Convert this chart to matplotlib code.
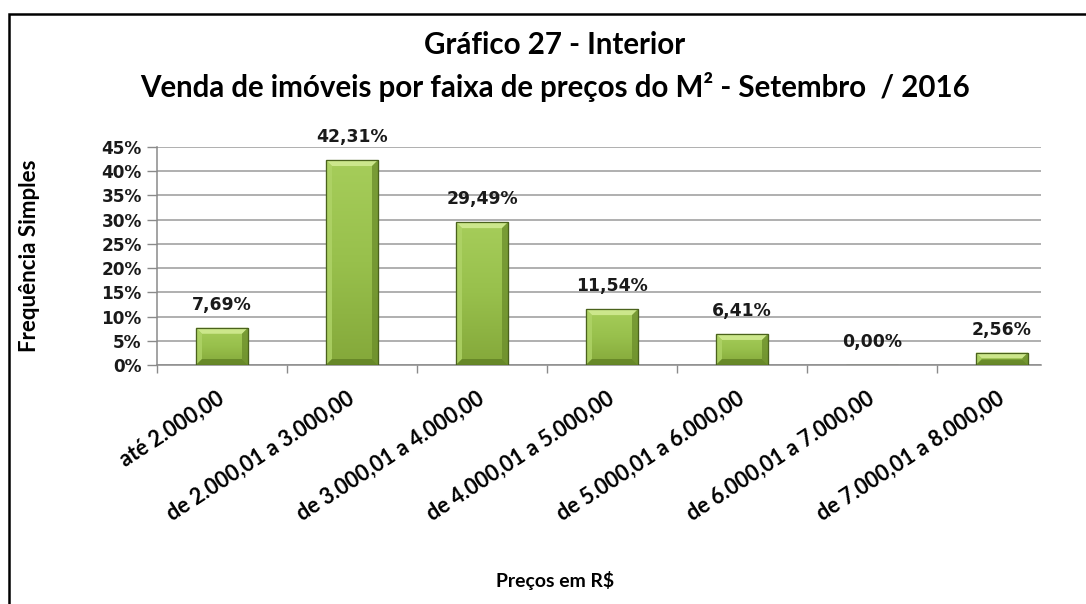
import matplotlib
matplotlib.use("Agg")
import matplotlib.pyplot as plt
import numpy as np
from matplotlib.patches import Polygon, Rectangle
from matplotlib.colors import LinearSegmentedColormap
from matplotlib.ticker import FixedLocator, FuncFormatter

# ---------------- data ----------------
categories = ["até 2.000,00", "de 2.000,01 a 3.000,00", "de 3.000,01 a 4.000,00",
              "de 4.000,01 a 5.000,00", "de 5.000,01 a 6.000,00", "de 6.000,01 a 7.000,00",
              "de 7.000,01 a 8.000,00"]
values = [7.69, 42.31, 29.49, 11.54, 6.41, 0.00, 2.56]
value_labels = ["7,69%", "42,31%", "29,49%", "11,54%", "6,41%", "0,00%", "2,56%"]
yticks = [0, 5, 10, 15, 20, 25, 30, 35, 40, 45]
title1 = "Gráfico 27 - Interior"
title2 = "Venda de imóveis por faixa de preços do M² - Setembro  / 2016"
ylabel = "Frequência Simples"
xlabel = "Preços em R$"

W, H = 1086, 604
fig = plt.figure(figsize=(W / 100, H / 100), dpi=100)
fig.patch.set_facecolor("white")

L, R, T, B = 157, 1041, 147, 365
ax = fig.add_axes([L / W, 1 - B / H, (R - L) / W, (B - T) / H])
ax.set_facecolor("white")

CAL = ["Lato", "DejaVu Sans"]
NUM = ["DejaVu Sans"]

x = np.arange(len(categories))
bars = ax.bar(x, values, width=0.4, color="#95be48", edgecolor="#4f6a1f",
              linewidth=0.8, zorder=3)

ax.set_xlim(-0.5, 6.3)
ax.set_ylim(0, 45)

# gridlines / axes
ax.set_yticks(yticks)
ax.yaxis.set_major_formatter(FuncFormatter(lambda v, p: f"{int(v)}%"))
ax.grid(axis="y", color="#9a9a9a", linewidth=1.1, zorder=0)
ax.set_axisbelow(True)
for s in ["top", "right"]:
    ax.spines[s].set_visible(False)
for s in ["left", "bottom"]:
    ax.spines[s].set_color("#8a8a8a")
    ax.spines[s].set_linewidth(1.1)
ax.tick_params(axis="y", length=7, width=1.0, color="#8a8a8a", pad=4,
               labelsize=12.2)
for lab in ax.get_yticklabels():
    lab.set_fontfamily(NUM)
    lab.set_fontweight("bold")
    lab.set_color("#1a1a1a")

ax.xaxis.set_minor_locator(FixedLocator(np.arange(-0.5, 6.0, 1.0)))
ax.tick_params(axis="x", which="minor", length=6, width=1.0, color="#8a8a8a")
ax.set_xticks(x)
ax.set_xticklabels(categories, rotation=33, ha="right", va="center",
                   rotation_mode="anchor", fontfamily=CAL, fontweight="bold",
                   fontsize=14)
ax.tick_params(axis="x", which="major", length=0, pad=23)

# data labels
for b, lab in zip(bars, value_labels):
    ax.annotate(lab, (b.get_x() + b.get_width() / 2, b.get_height()),
                xytext=(0, 10), textcoords="offset points", ha="center",
                va="bottom", fontsize=12.4, fontweight="bold", fontfamily=NUM,
                color="#1a1a1a", zorder=5)

# axis labels / titles
ax.set_ylabel(ylabel, fontfamily=CAL, fontweight="bold", fontsize=12.5)
ax.yaxis.set_label_coords((40 - L) / (R - L), 0.5)
ax.set_xlabel(xlabel, fontfamily=CAL, fontweight="bold", fontsize=12)
ax.xaxis.set_label_coords((555 - L) / (R - L), -(581 - B) / (B - T))
ax.xaxis.label.set_va("center")

t1 = fig.text(555 / W, 1 - 45 / H, title1, ha="center", va="center",
              fontfamily=CAL, fontweight="bold", fontsize=18)
t2 = fig.text(555 / W, 1 - 87 / H, title2, ha="center", va="center",
              fontfamily=CAL, fontweight="bold", fontsize=18)

# border
fig.add_artist(Rectangle((9 / W, -0.1), 1.2, 1 - 14 / H + 0.1, transform=fig.transFigure,
                         fill=False, edgecolor="black", linewidth=1.8, clip_on=False))

# ---- fit text widths to reference ----
fig.canvas.draw()
r = fig.canvas.get_renderer()
def fit(t, target, dim="w"):
    e = t.get_window_extent(r)
    cur = e.width if dim == "w" else e.height
    t.set_fontsize(t.get_fontsize() * target / cur)

fit(t2, 835)
t1.set_fontsize(t2.get_fontsize())
fit(ax.yaxis.label, 193, "h")
fit(ax.xaxis.label, 118)
tmp = fig.text(0, 0, categories[1], fontfamily=CAL, fontweight="bold", fontsize=14)
e = tmp.get_window_extent(r)
cs = 14 * 222 / e.width
tmp.remove()
for lab in ax.get_xticklabels():
    lab.set_fontsize(cs)

# ---- gradient + bevel on bars ----
cmap = LinearSegmentedColormap.from_list("g", ["#84a83a", "#98c04c", "#a6cd5a"])
grad = np.linspace(0, 1, 256).reshape(-1, 1)
fig.canvas.draw()
inv = ax.transData.inverted()
bev = 6
for b in bars:
    if b.get_height() <= 0:
        continue
    x0, x1 = b.get_x(), b.get_x() + b.get_width()
    y0, y1 = 0, b.get_height()
    im = ax.imshow(grad, extent=(x0, x1, y0, y1), origin="lower", cmap=cmap,
                   aspect="auto", zorder=3.1, interpolation="bilinear")
    im.set_clip_path(b)
    ext = b.get_window_extent(r)
    px0, px1, py0, py1 = ext.x0, ext.x1, ext.y0, ext.y1
    bv = min(bev, (py1 - py0) / 2.2)
    polys = [
        ([(px0, py1), (px1, py1), (px1 - bv, py1 - bv), (px0 + bv, py1 - bv)], "#cfe98f", 0.95),
        ([(px0, py0), (px0 + bv, py0 + bv), (px0 + bv, py1 - bv), (px0, py1)], "#b0d468", 0.8),
        ([(px1, py0), (px1, py1), (px1 - bv, py1 - bv), (px1 - bv, py0 + bv)], "#6a8c2a", 0.75),
        ([(px0, py0), (px1, py0), (px1 - bv, py0 + bv), (px0 + bv, py0 + bv)], "#5e7e22", 0.75),
    ]
    for pts, c, a in polys:
        dpts = inv.transform(pts)
        ax.add_patch(Polygon(dpts, closed=True, facecolor=c, edgecolor="none",
                             alpha=a, zorder=3.2))
    ax.add_patch(Rectangle((x0, y0), x1 - x0, y1 - y0, fill=False,
                           edgecolor="#4a621c", linewidth=0.9, zorder=3.3))

ax.set_xlim(-0.5, 6.3)
ax.set_ylim(0, 45)

fig.savefig("out.png", dpi=100, facecolor="white")
